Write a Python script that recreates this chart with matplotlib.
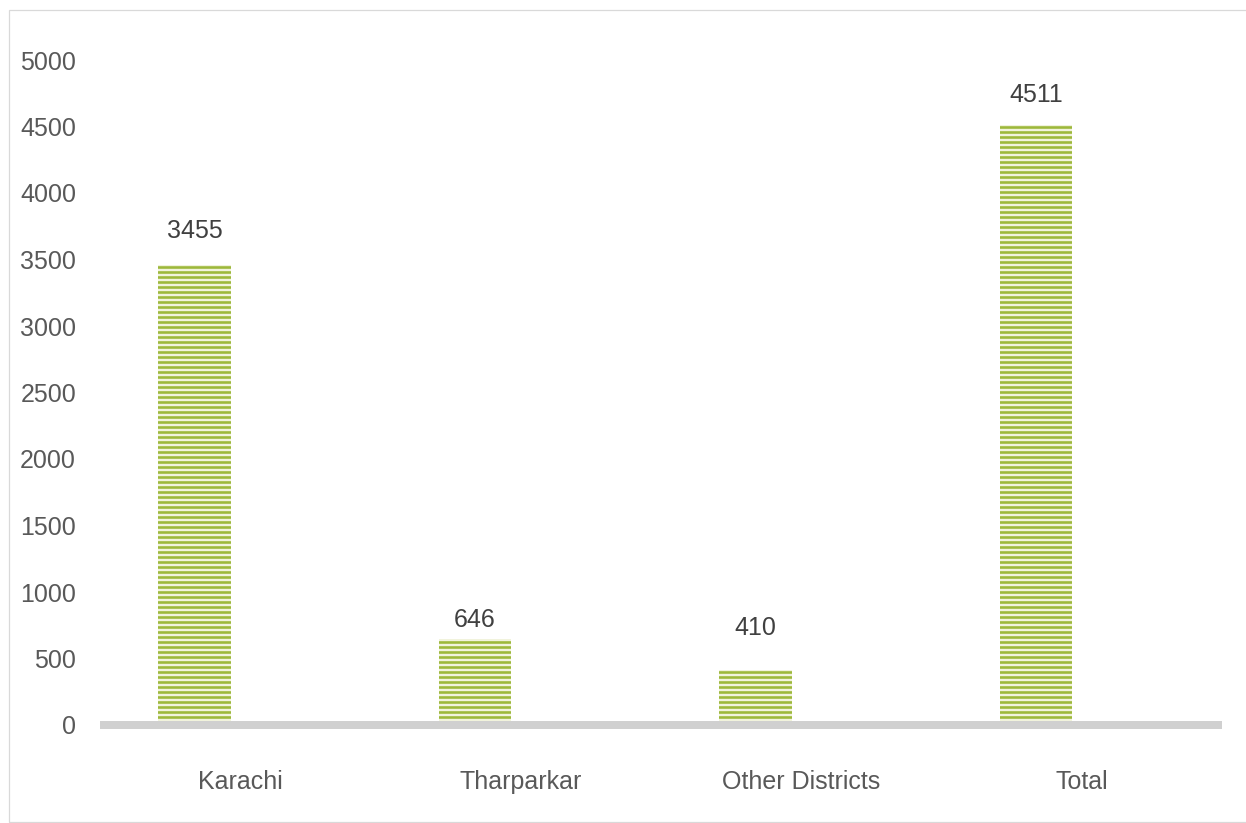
import matplotlib
matplotlib.use("Agg")
import matplotlib.pyplot as plt
from matplotlib.patches import Rectangle

categories = ["Karachi", "Tharparkar", "Other Districts", "Total"]
values = [3455, 646, 410, 4511]
yticks = [0, 500, 1000, 1500, 2000, 2500, 3000, 3500, 4000, 4500, 5000]

DPI = 90
W, H = 1246, 823
PT = 72 / DPI
FS = 25 * PT
plt.rcParams['font.family'] = ['Liberation Sans', 'DejaVu Sans']
plt.rcParams['hatch.linewidth'] = 2.6 * PT

fig = plt.figure(figsize=(W / DPI, H / DPI), dpi=DPI)
ax = fig.add_axes([100 / W, (H - 725) / H, (1222 - 100) / W, (725 - 60) / H])

x = list(range(len(categories)))
bx = [i - 0.163 for i in x]
bars = ax.bar(bx, values, width=0.26, color='#f1f3dc', edgecolor='#9db83a',
              linewidth=0, hatch='---', zorder=2)

label_offsets_px = [34, 19, 42, 30]
for xi, v, off in zip(bx, values, label_offsets_px):
    ax.annotate(str(v), (xi, v), xytext=(0, off * PT), textcoords='offset points',
                ha='center', va='center', fontsize=FS, color='#404040')

ax.axhline(0, color='#d0d0d0', lw=8 * PT, zorder=3, clip_on=False,
           solid_capstyle='butt')

ax.set_xlim(-0.5, 3.5)
ax.set_ylim(0, 5000)
ax.set_yticks(yticks)
ax.set_yticklabels([str(t) for t in yticks])
ax.set_xticks(x)
ax.set_xticklabels(categories)
ax.tick_params(axis='y', length=0, pad=24 * PT, labelsize=FS, labelcolor='#595959')
ax.tick_params(axis='x', length=0, pad=45 * PT, labelsize=FS, labelcolor='#595959')
for s in ax.spines.values():
    s.set_visible(False)

fig.patches.append(Rectangle((9 / W, 1 / H), 1.2, (822 - 10) / H,
                             transform=fig.transFigure, fill=False,
                             edgecolor='#d9d9d9', lw=1))

fig.savefig("out.png", dpi=DPI)
